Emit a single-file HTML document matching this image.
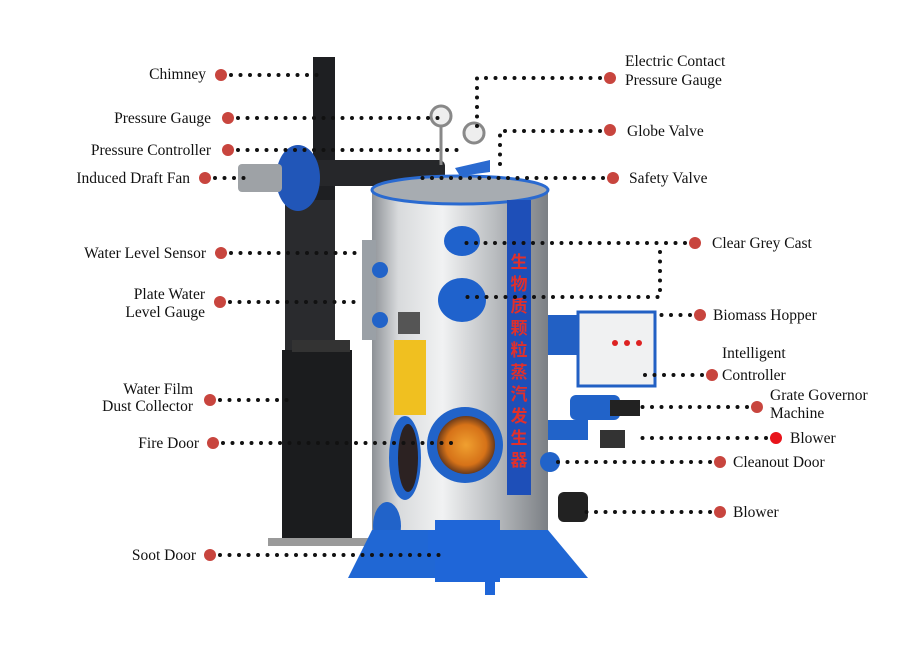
<!DOCTYPE html>
<html><head><meta charset="utf-8"><style>
html,body{margin:0;padding:0;background:#fff;}
svg{display:block}
text{font-family:"Liberation Serif",serif;font-size:15.5px;fill:#111;}
.d{stroke:#111;stroke-width:4;stroke-linecap:round;stroke-dasharray:0 9.5;fill:none}
</style></head><body>
<svg width="900" height="650" viewBox="0 0 900 650" xmlns="http://www.w3.org/2000/svg">
<defs>
<linearGradient id="steel" x1="0" x2="1">
<stop offset="0" stop-color="#8d9196"/><stop offset="0.15" stop-color="#d8dadc"/><stop offset="0.4" stop-color="#f1f2f3"/><stop offset="0.7" stop-color="#b9bcbf"/><stop offset="1" stop-color="#7b7f84"/></linearGradient>
<radialGradient id="fire"><stop offset="0" stop-color="#f0a030"/><stop offset="0.7" stop-color="#d67218"/><stop offset="1" stop-color="#6a3a1a"/></radialGradient>
</defs>
<!-- chimney & dust collector -->
<rect x="313" y="57" width="22" height="300" fill="#1e1f22"/>
<rect x="285" y="200" width="50" height="150" fill="#2a2b2e"/>
<rect x="282" y="350" width="70" height="192" fill="#1b1c1e"/>
<rect x="268" y="538" width="100" height="8" fill="#9a9a9a"/>
<rect x="292" y="340" width="58" height="12" fill="#333"/>
<!-- horizontal pipe -->
<rect x="310" y="160" width="135" height="26" rx="6" fill="#26272a"/>
<!-- fan -->
<ellipse cx="298" cy="178" rx="22" ry="33" fill="#2156b8"/>
<rect x="238" y="164" width="44" height="28" rx="4" fill="#9ea2a6"/>
<!-- gauges -->
<line x1="441" y1="118" x2="441" y2="165" stroke="#888" stroke-width="3"/>
<circle cx="441" cy="116" r="10" fill="#eee" stroke="#888" stroke-width="3"/>
<circle cx="474" cy="133" r="10" fill="#eee" stroke="#888" stroke-width="3"/>
<path d="M455 168 L490 160 L490 172 L460 176Z" fill="#2a6ad0"/>
<!-- boiler body -->
<rect x="372" y="190" width="176" height="372" fill="url(#steel)"/>
<ellipse cx="460" cy="190" rx="88" ry="14" fill="#a7acb1" stroke="#2a6ad0" stroke-width="3"/>
<rect x="362" y="240" width="14" height="100" fill="#9aa0a6"/>
<circle cx="380" cy="270" r="8" fill="#2163c9"/><circle cx="380" cy="320" r="8" fill="#2163c9"/>
<rect x="398" y="312" width="22" height="22" fill="#555"/>
<rect x="394" y="340" width="32" height="75" fill="#f0c020"/>
<!-- blue strip -->
<rect x="507" y="200" width="24" height="295" fill="#1e4fb8"/>
<text x="519" y="268" text-anchor="middle" style="font-family:'Noto Sans CJK SC',sans-serif;font-size:17px;fill:#e0302c;font-weight:bold">生</text>
<text x="519" y="290" text-anchor="middle" style="font-family:'Noto Sans CJK SC',sans-serif;font-size:17px;fill:#e0302c;font-weight:bold">物</text>
<text x="519" y="312" text-anchor="middle" style="font-family:'Noto Sans CJK SC',sans-serif;font-size:17px;fill:#e0302c;font-weight:bold">质</text>
<text x="519" y="334" text-anchor="middle" style="font-family:'Noto Sans CJK SC',sans-serif;font-size:17px;fill:#e0302c;font-weight:bold">颗</text>
<text x="519" y="356" text-anchor="middle" style="font-family:'Noto Sans CJK SC',sans-serif;font-size:17px;fill:#e0302c;font-weight:bold">粒</text>
<text x="519" y="378" text-anchor="middle" style="font-family:'Noto Sans CJK SC',sans-serif;font-size:17px;fill:#e0302c;font-weight:bold">蒸</text>
<text x="519" y="400" text-anchor="middle" style="font-family:'Noto Sans CJK SC',sans-serif;font-size:17px;fill:#e0302c;font-weight:bold">汽</text>
<text x="519" y="422" text-anchor="middle" style="font-family:'Noto Sans CJK SC',sans-serif;font-size:17px;fill:#e0302c;font-weight:bold">发</text>
<text x="519" y="444" text-anchor="middle" style="font-family:'Noto Sans CJK SC',sans-serif;font-size:17px;fill:#e0302c;font-weight:bold">生</text>
<text x="519" y="466" text-anchor="middle" style="font-family:'Noto Sans CJK SC',sans-serif;font-size:17px;fill:#e0302c;font-weight:bold">器</text>
<!-- portholes -->
<ellipse cx="462" cy="241" rx="18" ry="15" fill="#1f62cc"/>
<ellipse cx="462" cy="300" rx="24" ry="22" fill="#1f62cc"/>
<!-- fire door -->
<circle cx="465" cy="445" r="38" fill="#2163c9"/>
<circle cx="466" cy="445" r="29" fill="url(#fire)"/>
<ellipse cx="405" cy="458" rx="16" ry="42" fill="#2163c9"/>
<ellipse cx="408" cy="458" rx="10" ry="34" fill="#2c2222"/>
<ellipse cx="387" cy="526" rx="14" ry="24" fill="#2163c9"/>
<!-- right side equipment -->
<rect x="548" y="315" width="45" height="40" fill="#2260c4"/>
<rect x="578" y="312" width="77" height="74" fill="#f0f1f2" stroke="#2260c4" stroke-width="3"/>
<circle cx="615" cy="343" r="3" fill="#d22"/><circle cx="627" cy="343" r="3" fill="#d22"/><circle cx="639" cy="343" r="3" fill="#d22"/>
<rect x="570" y="395" width="50" height="25" rx="6" fill="#2163c9"/>
<rect x="548" y="420" width="40" height="20" fill="#2163c9"/>
<rect x="610" y="400" width="30" height="16" fill="#222"/>
<rect x="600" y="430" width="25" height="18" fill="#333"/>
<circle cx="550" cy="462" r="10" fill="#2163c9"/>
<rect x="558" y="492" width="30" height="30" rx="6" fill="#222"/>
<!-- base -->
<path d="M372 530 L548 530 L588 578 L348 578Z" fill="#2067d4"/>
<rect x="435" y="520" width="65" height="62" fill="#1f66d8"/>
<rect x="485" y="575" width="10" height="20" fill="#1f66d8"/>
<rect x="428" y="530" width="8" height="30" fill="#1f66d8"/>

<!-- connectors -->
<g class="d">
<path d="M231 75 H322"/>
<path d="M238 118 H440"/>
<path d="M238 150 H462"/>
<path d="M215 178 H245"/>
<path d="M600 78 H477 V128"/>
<path d="M600 131 H500 V172"/>
<path d="M603 178 H415"/>
<path d="M685 243 H460"/>
<path d="M660 252 V297 H462"/>
<path d="M231 253 H362"/>
<path d="M230 302 H355"/>
<path d="M690 315 H655"/>
<path d="M702 375 H637"/>
<path d="M747 407 H640"/>
<path d="M766 438 H635"/>
<path d="M710 462 H555"/>
<path d="M710 512 H582"/>
<path d="M220 400 H296"/>
<path d="M223 443 H460"/>
<path d="M220 555 H445"/>
</g>
<!-- dots -->
<g fill="#c8453e">
<circle cx="221" cy="75" r="6"/><circle cx="228" cy="118" r="6"/><circle cx="228" cy="150" r="6"/><circle cx="205" cy="178" r="6"/>
<circle cx="221" cy="253" r="6"/><circle cx="220" cy="302" r="6"/><circle cx="210" cy="400" r="6"/><circle cx="213" cy="443" r="6"/><circle cx="210" cy="555" r="6"/>
<circle cx="610" cy="78" r="6"/><circle cx="610" cy="130" r="6"/><circle cx="613" cy="178" r="6"/><circle cx="695" cy="243" r="6"/>
<circle cx="700" cy="315" r="6"/><circle cx="712" cy="375" r="6"/><circle cx="757" cy="407" r="6"/><circle cx="720" cy="462" r="6"/><circle cx="720" cy="512" r="6"/>
</g>
<circle cx="776" cy="438" r="6" fill="#e8141b"/>
<!-- labels -->
<g text-anchor="end">
<text x="206" y="79">Chimney</text>
<text x="211" y="123">Pressure Gauge</text>
<text x="211" y="155">Pressure Controller</text>
<text x="190" y="183">Induced Draft Fan</text>
<text x="206" y="258">Water Level Sensor</text>
<text x="205" y="299">Plate Water</text>
<text x="205" y="317">Level Gauge</text>
<text x="193" y="394">Water Film</text>
<text x="193" y="411">Dust Collector</text>
<text x="199" y="448">Fire Door</text>
<text x="196" y="560">Soot Door</text>
</g>
<text x="625" y="66">Electric Contact</text>
<text x="625" y="85">Pressure Gauge</text>
<text x="627" y="136">Globe Valve</text>
<text x="629" y="183">Safety Valve</text>
<text x="712" y="248">Clear Grey Cast</text>
<text x="713" y="320">Biomass Hopper</text>
<text x="722" y="358">Intelligent</text>
<text x="722" y="380">Controller</text>
<text x="770" y="400">Grate Governor</text>
<text x="770" y="418">Machine</text>
<text x="790" y="443">Blower</text>
<text x="733" y="467">Cleanout Door</text>
<text x="733" y="517">Blower</text>
</svg>
</body></html>
